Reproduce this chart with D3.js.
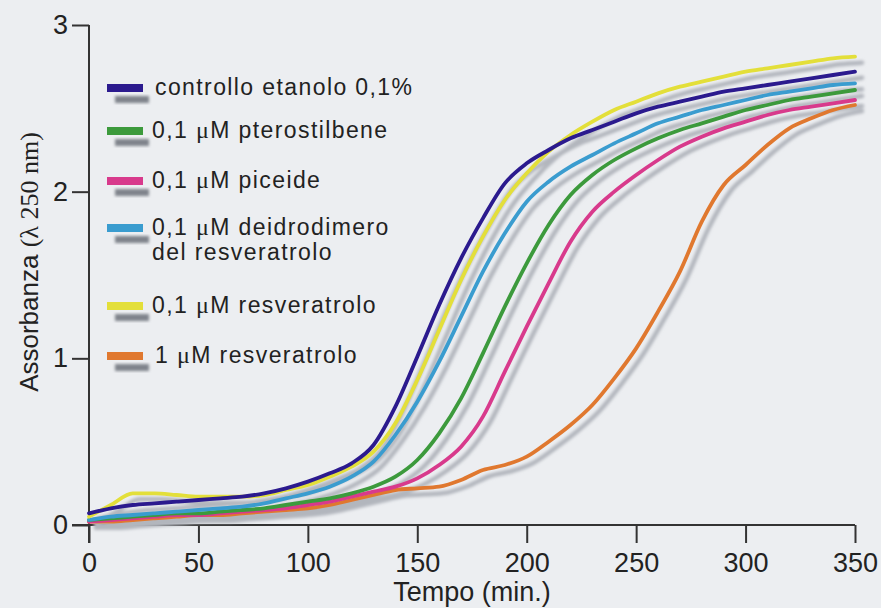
<!DOCTYPE html>
<html><head><meta charset="utf-8">
<script src="https://cdn.jsdelivr.net/npm/d3@7"></script>
<style>body{margin:0;background:#eceef1}</style>
</head><body><svg id="c" width="881" height="608"></svg>
<script>
// ---- data ----
const times = [0,10,20,30,40,50,60,70,80,90,100,110,120,130,140,150,160,170,180,190,200,210,220,230,240,250,260,270,280,290,300,310,320,330,340,350];
const controllo =      [0.07,0.10,0.12,0.13,0.14,0.15,0.16,0.17,0.19,0.22,0.26,0.31,0.37,0.48,0.71,1.01,1.32,1.60,1.84,2.05,2.17,2.25,2.32,2.37,2.42,2.47,2.51,2.54,2.57,2.60,2.62,2.64,2.66,2.68,2.70,2.72];
const pterostilbene =  [0.03,0.04,0.05,0.06,0.07,0.07,0.08,0.09,0.10,0.12,0.14,0.16,0.19,0.23,0.29,0.39,0.55,0.76,1.03,1.31,1.57,1.80,1.98,2.10,2.19,2.26,2.32,2.37,2.41,2.45,2.49,2.52,2.55,2.57,2.59,2.61];
const piceide =        [0.02,0.03,0.04,0.05,0.06,0.06,0.07,0.08,0.09,0.10,0.12,0.14,0.17,0.20,0.23,0.28,0.36,0.47,0.65,0.92,1.19,1.45,1.70,1.88,2.00,2.10,2.19,2.27,2.33,2.38,2.42,2.46,2.49,2.51,2.53,2.55];
const deidrodimero =   [0.03,0.05,0.06,0.07,0.08,0.09,0.10,0.11,0.13,0.16,0.19,0.23,0.29,0.38,0.54,0.74,0.98,1.25,1.52,1.75,1.94,2.06,2.15,2.22,2.29,2.35,2.41,2.45,2.49,2.52,2.55,2.58,2.60,2.62,2.64,2.65];
const resveratrolo01 = [0.05,0.12,0.19,0.19,0.18,0.17,0.17,0.17,0.18,0.21,0.24,0.29,0.35,0.44,0.61,0.87,1.17,1.47,1.73,1.95,2.11,2.24,2.34,2.42,2.49,2.54,2.59,2.63,2.66,2.69,2.72,2.74,2.76,2.78,2.80,2.81];
const resveratrolo1 =  [0.02,0.02,0.03,0.04,0.05,0.06,0.06,0.07,0.08,0.09,0.10,0.12,0.15,0.18,0.21,0.22,0.23,0.27,0.33,0.36,0.41,0.50,0.60,0.72,0.88,1.06,1.28,1.52,1.82,2.04,2.16,2.28,2.38,2.44,2.49,2.52];

const seriesKeys   = ["controllo","pterostilbene","piceide","deidrodimero","resveratrolo01","resveratrolo1"];
const seriesValues = [controllo, pterostilbene, piceide, deidrodimero, resveratrolo01, resveratrolo1];
const seriesColors = ["#2b1a8e","#3c9a3c","#d83a8c","#3a9ccf","#e3df3a","#e0782f"];
const legendLabels = [
  [["controllo etanolo 0,1%"]],
  [["0,1 ","μ","M pterostilbene"]],
  [["0,1 ","μ","M piceide"]],
  [["0,1 ","μ","M deidrodimero"],["del resveratrolo"]],
  [["0,1 ","μ","M resveratrolo"]],
  [["1 ","μ","M resveratrolo"]]
];
const xTicks = [0,50,100,150,200,250,300,350];
const yTicks = [0,1,2,3];
const xTitle = "Tempo (min.)";
const yTitleSans = "Assorbanza ";
const yTitleSerif = "(λ 250 nm)";

// ---- drawing ----
const W = 881, H = 608;
const svg = d3.select("#c");
svg.append("rect").attr("width", W).attr("height", H).attr("fill", "#eceef1");
const defs = svg.append("defs");
defs.append("filter").attr("id","blur").attr("x","-20%").attr("y","-20%").attr("width","140%").attr("height","140%")
  .append("feGaussianBlur").attr("stdDeviation", 1.4);

const x = d3.scaleLinear().domain([0,350]).range([89,855]);
const y = d3.scaleLinear().domain([0,3]).range([525,25]);

const sans = "'Liberation Sans', Arial, Helvetica, sans-serif";
const serif = "'Liberation Serif', 'Times New Roman', serif";
const textColor = "#222";

// axes
const xAxis = svg.append("g").attr("transform", `translate(0,${y(0)})`)
  .call(d3.axisBottom(x).tickValues(xTicks).tickSize(18).tickSizeOuter(0).tickPadding(10).tickFormat(d3.format("d")));
const yAxis = svg.append("g").attr("transform", `translate(${x(0)},0)`)
  .call(d3.axisLeft(y).tickValues(yTicks).tickSize(17).tickSizeOuter(0).tickPadding(4).tickFormat(d3.format("d")));
[xAxis, yAxis].forEach(g => {
  g.select(".domain").attr("stroke", "#333").attr("stroke-width", 2);
  g.selectAll(".tick line").attr("stroke", "#333").attr("stroke-width", 2);
  g.selectAll(".tick text").attr("fill", textColor).style("font-family", sans).style("font-size", "27px");
});
xAxis.select(".domain").attr("d", `M${x(0)-17},0H${x(350)}`);
yAxis.select(".domain").attr("d", `M0,${y(3)}V${y(0)+18}`);

// titles
svg.append("text").attr("x", (x(0)+x(350))/2).attr("y", 601).attr("text-anchor","middle")
  .attr("fill", textColor).style("font-family", sans).style("font-size","27px").text(xTitle);
const yt = svg.append("text").attr("transform","translate(38,262) rotate(-90)").attr("text-anchor","middle").attr("fill", textColor);
yt.append("tspan").style("font-family", sans).style("font-size","26px").text(yTitleSans);
yt.append("tspan").style("font-family", serif).style("font-size","26px").text(yTitleSerif);

// curves
const line = d3.line().x((d,i)=>x(times[i])).y(d=>y(d)).curve(d3.curveMonotoneX);
const drawOrder = [5,2,1,3,4,0];
const shadows = svg.append("g").attr("filter","url(#blur)").attr("transform","translate(7,6)");
drawOrder.forEach(i => {
  shadows.append("path").attr("d", line(seriesValues[i])).attr("fill","none")
    .attr("stroke","#b2b6bd").attr("stroke-width",4.5).attr("stroke-linecap","round");
});
const curves = svg.append("g");
drawOrder.forEach(i => {
  curves.append("path").attr("d", line(seriesValues[i])).attr("fill","none")
    .attr("stroke", seriesColors[i]).attr("stroke-width",3.8).attr("stroke-linecap","round");
});

// legend
const legendBase = [95,138,188,235,313,363];
const lineGap = 25;
const lg = svg.append("g");
seriesKeys.forEach((k,i) => {
  const b = legendBase[i];
  lg.append("rect").attr("x",115).attr("y",b+1).attr("width",34).attr("height",7)
    .attr("fill","#7f838b").attr("filter","url(#blur)");
  lg.append("rect").attr("x",107).attr("y",b-11).attr("width",36).attr("height",8).attr("fill", seriesColors[i]);
  legendLabels[i].forEach((parts, j) => {
    const t = lg.append("text").attr("x", (i===0 || i===5) ? 155 : 152).attr("y", b + j*lineGap)
      .attr("fill", textColor).style("font-family", sans).style("font-size","23px").style("letter-spacing","1.4px");
    parts.forEach(p => {
      const s = t.append("tspan").text(p);
      if (p === "μ") s.style("font-family", serif).style("font-size","24px");
    });
  });
});
</script></body></html>
